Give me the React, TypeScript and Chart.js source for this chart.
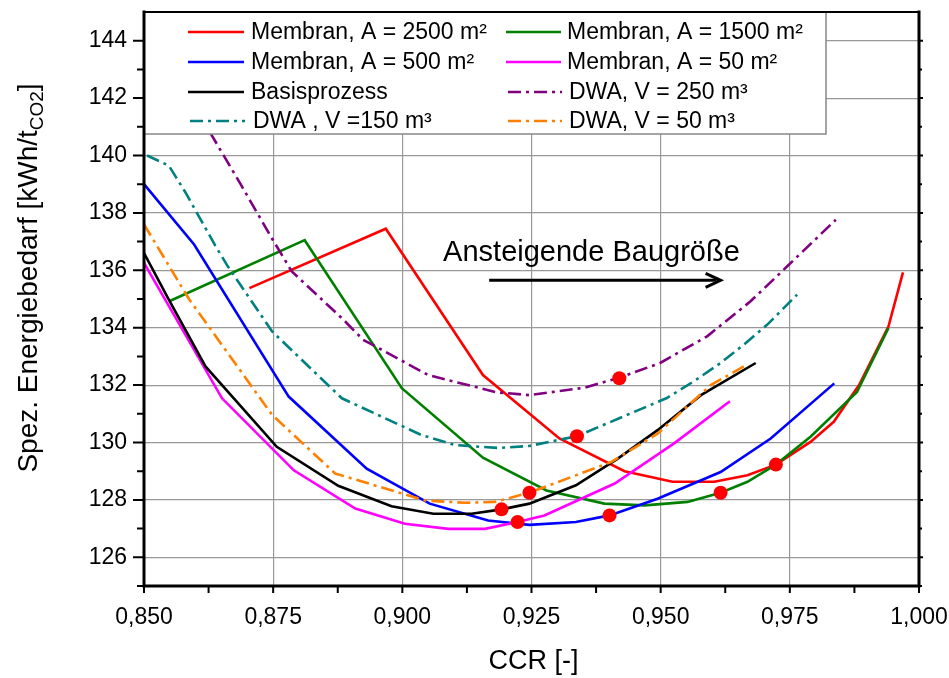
import React, { useEffect, useRef } from 'react';
import { Chart, registerables } from 'chart.js';
Chart.register(...registerables);

const FONT = '"Liberation Sans", Arial, Helvetica, sans-serif';

// ---- axis ticks ----
const xTickValues = [0.85, 0.875, 0.9, 0.925, 0.95, 0.975, 1.0];
const yTickValues = [126, 128, 130, 132, 134, 136, 138, 140, 142, 144];
const X_MIN = 0.85, X_MAX = 1.0, Y_MIN = 125, Y_MAX = 145;

// ---- series (CCR [-], spez. Energiebedarf [kWh/t CO2]) ----
const ccrMembran2500 = [0.8704, 0.8968, 0.9156, 0.9304, 0.9430, 0.9523, 0.9604, 0.9668, 0.9723, 0.9790, 0.9835, 0.9884, 0.9941, 0.9969];
const eMembran2500 = [135.38, 137.45, 132.35, 130.14, 129.00, 128.63, 128.63, 128.86, 129.23, 130.02, 130.72, 132.00, 134.05, 135.93];

const ccrMembran1500 = [0.8551, 0.8811, 0.8999, 0.9156, 0.9279, 0.9391, 0.9469, 0.9552, 0.9616, 0.9668, 0.9723, 0.9790, 0.9880, 0.9941];
const eMembran1500 = [134.94, 137.05, 131.89, 129.47, 128.33, 127.87, 127.81, 127.93, 128.25, 128.63, 129.23, 130.20, 131.76, 133.99];

const ccrMembran500 = [0.8500, 0.8597, 0.8780, 0.8931, 0.9053, 0.9166, 0.9246, 0.9336, 0.9401, 0.9494, 0.9616, 0.9713, 0.9836];
const eMembran500 = [139.00, 136.90, 131.60, 129.09, 127.87, 127.28, 127.13, 127.23, 127.46, 128.04, 128.97, 130.14, 132.06];

const ccrMembran50 = [0.8500, 0.8651, 0.8790, 0.8909, 0.9005, 0.9089, 0.9160, 0.9223, 0.9275, 0.9411, 0.9526, 0.9634];
const eMembran50 = [136.26, 131.54, 129.03, 127.70, 127.17, 126.99, 126.99, 127.23, 127.46, 128.57, 129.97, 131.44];

const ccrBasis = [0.8500, 0.8548, 0.8619, 0.8757, 0.8876, 0.8979, 0.9060, 0.9134, 0.9192, 0.9246, 0.9336, 0.9417, 0.9494, 0.9578, 0.9684];
const eBasis = [136.60, 134.98, 132.65, 129.85, 128.49, 127.78, 127.52, 127.52, 127.67, 127.87, 128.51, 129.44, 130.43, 131.65, 132.77];

const ccrDwa250 = [0.8628, 0.8687, 0.8748, 0.8786, 0.8886, 0.8924, 0.8954, 0.9050, 0.9182, 0.9246, 0.9353, 0.9420, 0.9499, 0.9590, 0.9674, 0.9745, 0.9839];
const eDwa250 = [140.80, 139.00, 137.10, 135.96, 134.28, 133.58, 133.29, 132.35, 131.75, 131.65, 131.91, 132.26, 132.77, 133.70, 134.92, 136.14, 137.76];

const ccrDwa150 = [0.8506, 0.8548, 0.8580, 0.8638, 0.8661, 0.8748, 0.8883, 0.9037, 0.9102, 0.9185, 0.9246, 0.9338, 0.9512, 0.9564, 0.9616, 0.9661, 0.9706, 0.9764];
const eDwa150 = [140.00, 139.65, 138.72, 136.86, 136.17, 133.87, 131.54, 130.26, 129.91, 129.81, 129.88, 130.22, 131.55, 132.13, 132.77, 133.41, 134.10, 135.15];

const ccrDwa50 = [0.8500, 0.8587, 0.8748, 0.8870, 0.9044, 0.9121, 0.9179, 0.9246, 0.9404, 0.9494, 0.9597, 0.9661];
const eDwa50 = [137.60, 135.00, 130.96, 128.92, 127.98, 127.90, 127.93, 128.25, 129.32, 130.31, 132.00, 132.65];

// optimum markers
const ccrMarker = [0.9420, 0.9338, 0.9246, 0.9192, 0.9223, 0.9401, 0.9616, 0.9723];
const eMarker = [132.24, 130.22, 128.25, 127.67, 127.23, 127.46, 128.25, 129.23];

// annotation
const annotationText = 'Ansteigende Baugröße';
const annotationAnchor = [0.9366, 136.34];
const arrowFrom = [0.9168, 135.65];
const arrowTo = [0.9616, 135.65];

const legendLabels = [
  'Membran, A = 2500 m²', 'Membran, A = 1500 m²',
  'Membran, A = 500 m²', 'Membran, A = 50 m²',
  'Basisprozess', 'DWA, V = 250 m³',
  'DWA , V =150 m³', 'DWA, V = 50 m³',
];

const DASH = [13, 5, 3, 5];

function pts(xs: number[], ys: number[]) {
  return xs.map((x, i) => ({ x, y: ys[i] }));
}

export default function App() {
  const ref = useRef<HTMLCanvasElement>(null);

  useEffect(() => {
    const canvas = ref.current!;
    document.body.style.margin = '0';

    const series = [
      { label: legendLabels[0], xs: ccrMembran2500, ys: eMembran2500, color: '#ff0000', dash: [] as number[] },
      { label: legendLabels[1], xs: ccrMembran1500, ys: eMembran1500, color: '#008000', dash: [] as number[] },
      { label: legendLabels[2], xs: ccrMembran500, ys: eMembran500, color: '#0000ff', dash: [] as number[] },
      { label: legendLabels[3], xs: ccrMembran50, ys: eMembran50, color: '#ff00ff', dash: [] as number[] },
      { label: legendLabels[4], xs: ccrBasis, ys: eBasis, color: '#000000', dash: [] as number[] },
      { label: legendLabels[5], xs: ccrDwa250, ys: eDwa250, color: '#800080', dash: DASH },
      { label: legendLabels[6], xs: ccrDwa150, ys: eDwa150, color: '#008080', dash: DASH },
      { label: legendLabels[7], xs: ccrDwa50, ys: eDwa50, color: '#ff8000', dash: DASH },
    ];

    const lineSets = series.map((s, i) => ({
      label: s.label,
      data: pts(s.xs, s.ys),
      showLine: true,
      borderColor: s.color,
      backgroundColor: s.color,
      borderWidth: 2.6,
      borderDash: s.dash,
      pointRadius: 0,
      tension: 0,
      fill: false,
      order: 10 - i,
    }));

    const markerSet = {
      label: 'Optimum',
      data: pts(ccrMarker, eMarker),
      showLine: false,
      pointRadius: 7,
      pointBackgroundColor: '#ff0000',
      pointBorderColor: '#ff0000',
      borderWidth: 0,
      order: -1,
    };

    const overlay = {
      id: 'overlay',
      afterDatasetsDraw(chart: any) {
        const { ctx, chartArea: a, scales } = chart;
        const xs = scales.x, ys = scales.y;
        ctx.save();

        // annotation text + arrow
        ctx.fillStyle = '#000';
        ctx.font = `29px ${FONT}`;
        ctx.textAlign = 'center';
        ctx.textBaseline = 'alphabetic';
        ctx.fillText(annotationText, xs.getPixelForValue(annotationAnchor[0]), ys.getPixelForValue(annotationAnchor[1]));
        const ax0 = xs.getPixelForValue(arrowFrom[0]);
        const ax1 = xs.getPixelForValue(arrowTo[0]);
        const ay = ys.getPixelForValue(arrowFrom[1]);
        ctx.strokeStyle = '#000';
        ctx.lineWidth = 3;
        ctx.beginPath();
        ctx.moveTo(ax0, ay);
        ctx.lineTo(ax1 - 4, ay);
        ctx.stroke();
        ctx.lineJoin = 'miter';
        ctx.beginPath();
        ctx.moveTo(ax1 - 15, ay - 7);
        ctx.lineTo(ax1, ay);
        ctx.lineTo(ax1 - 15, ay + 7);
        ctx.stroke();

        // legend box
        const lx0 = a.left, ly0 = a.top, lx1 = 826, ly1 = 134;
        ctx.fillStyle = '#fff';
        ctx.fillRect(lx0, ly0, lx1 - lx0, ly1 - ly0);
        ctx.strokeStyle = '#888';
        ctx.lineWidth = 1.5;
        ctx.beginPath();
        ctx.moveTo(lx0, ly1);
        ctx.lineTo(lx1, ly1);
        ctx.lineTo(lx1, ly0);
        ctx.stroke();

        const rowsY = [32, 62, 92, 121];
        const cols = [
          { l0: 188, l1: 244, t: 251 },
          { l0: 506, l1: 561, t: 567 },
        ];
        ctx.font = `23px ${FONT}`;
        ctx.textAlign = 'left';
        ctx.textBaseline = 'middle';
        series.forEach((s, i) => {
          const c = cols[i % 2];
          const y = rowsY[Math.floor(i / 2)];
          const dashed = s.dash.length > 0;
          ctx.strokeStyle = s.color;
          ctx.lineWidth = 2.6;
          ctx.setLineDash(s.dash);
          ctx.beginPath();
          ctx.moveTo(c.l0 + (dashed ? 2 : 0), y);
          ctx.lineTo(c.l1 + (dashed ? 1 : 0), y);
          ctx.stroke();
          ctx.setLineDash([]);
          ctx.fillStyle = '#000';
          ctx.fillText(s.label, c.t + (dashed ? 2 : 0), y + 1);
        });

        // frame
        ctx.strokeStyle = '#000';
        ctx.lineCap = 'square';
        ctx.lineWidth = 3;
        ctx.beginPath();
        ctx.moveTo(a.left, a.top);
        ctx.lineTo(a.left, a.bottom);
        ctx.lineTo(a.right, a.bottom);
        ctx.lineTo(a.right, a.top);
        ctx.stroke();
        ctx.lineWidth = 2;
        ctx.beginPath();
        ctx.moveTo(a.left, a.top);
        ctx.lineTo(a.right, a.top);
        ctx.stroke();

        // ticks
        ctx.lineCap = 'butt';
        ctx.lineWidth = 2;
        ctx.beginPath();
        for (let i = 0; i < yTickValues.length; i++) {
          const v = yTickValues[i];
          const py = ys.getPixelForValue(v);
          ctx.moveTo(a.left - 1, py); ctx.lineTo(a.left - 11, py);
          ctx.moveTo(a.right, py); ctx.lineTo(a.right + 4, py);
          const pm = ys.getPixelForValue(v - 1);
          ctx.moveTo(a.left - 1, pm); ctx.lineTo(a.left - 7, pm);
          ctx.moveTo(a.right, pm); ctx.lineTo(a.right + 3, pm);
        }
        for (let i = 0; i < xTickValues.length; i++) {
          const px = xs.getPixelForValue(xTickValues[i]);
          ctx.moveTo(px, a.bottom + 1); ctx.lineTo(px, a.bottom + 7);
          if (i < xTickValues.length - 1) {
            const pm = xs.getPixelForValue((xTickValues[i] + xTickValues[i + 1]) / 2);
            ctx.moveTo(pm, a.bottom + 1); ctx.lineTo(pm, a.bottom + 7);
          }
        }
        ctx.stroke();

        // x title
        ctx.fillStyle = '#000';
        ctx.font = `27px ${FONT}`;
        ctx.textAlign = 'center';
        ctx.textBaseline = 'alphabetic';
        ctx.fillText('CCR [-]', (a.left + a.right) / 2 + 2, 669);

        // y title with subscript
        const mainA = 'Spez. Energiebedarf [kWh/t';
        const sub = 'CO2';
        const mainB = ']';
        ctx.font = `28px ${FONT}`;
        const wA = ctx.measureText(mainA).width;
        const wB = ctx.measureText(mainB).width;
        ctx.font = `19px ${FONT}`;
        const wS = ctx.measureText(sub).width;
        const total = wA + wS + wB;
        ctx.translate(37, 278);
        ctx.rotate(-Math.PI / 2);
        ctx.textAlign = 'left';
        let cx = -total / 2;
        ctx.font = `28px ${FONT}`;
        ctx.fillText(mainA, cx, 0);
        cx += wA;
        ctx.font = `19px ${FONT}`;
        ctx.fillText(sub, cx, 6);
        cx += wS;
        ctx.font = `28px ${FONT}`;
        ctx.fillText(mainB, cx, 0);

        ctx.restore();
      },
    };

    const gridColor = (c: any, lo: number, hi: number) =>
      c.tick && (Math.abs(c.tick.value - lo) < 1e-9 || Math.abs(c.tick.value - hi) < 1e-9) ? 'rgba(0,0,0,0)' : '#999999';

    const chart = new Chart(canvas, {
      type: 'scatter',
      data: { datasets: [markerSet as any, ...lineSets] },
      options: {
        responsive: false,
        animation: false,
        devicePixelRatio: 1,
        layout: { padding: { left: 0, right: 30, top: 12, bottom: 0 } },
        plugins: { legend: { display: false }, tooltip: { enabled: false } },
        events: [],
        scales: {
          x: {
            type: 'linear',
            min: X_MIN,
            max: X_MAX,
            afterBuildTicks: (s: any) => { s.ticks = xTickValues.map((v) => ({ value: v })); },
            afterFit: (s: any) => { s.height = 92; s.paddingLeft = 0; s.paddingRight = 0; s.paddingTop = 0; s.paddingBottom = 0; },
            ticks: {
              color: '#000',
              font: { family: FONT, size: 23 },
              padding: 18,
              maxRotation: 0,
              autoSkip: false,
              callback: (v: any) => Number(v).toFixed(3).replace('.', ','),
            },
            grid: { color: (c: any) => gridColor(c, X_MIN, X_MAX), lineWidth: 1.2, drawTicks: false },
            border: { display: false },
          },
          y: {
            type: 'linear',
            min: Y_MIN,
            max: Y_MAX,
            afterBuildTicks: (s: any) => { s.ticks = yTickValues.map((v) => ({ value: v })); },
            afterFit: (s: any) => { s.width = 144; s.paddingTop = 0; s.paddingBottom = 0; s.paddingLeft = 0; s.paddingRight = 0; },
            ticks: {
              color: '#000',
              font: { family: FONT, size: 23 },
              padding: 17,
              autoSkip: false,
              callback: (v: any) => String(v),
            },
            grid: { color: (c: any) => gridColor(c, Y_MIN, Y_MAX), lineWidth: 1.2, drawTicks: false },
            border: { display: false },
          },
        },
      },
      plugins: [overlay],
    });

    return () => chart.destroy();
  }, []);

  return (
    <div style={{ position: 'absolute', left: 0, top: 0, width: 949, height: 678, background: '#fff' }}>
      <canvas ref={ref} width={949} height={678} style={{ display: 'block', width: 949, height: 678 }} />
    </div>
  );
}
